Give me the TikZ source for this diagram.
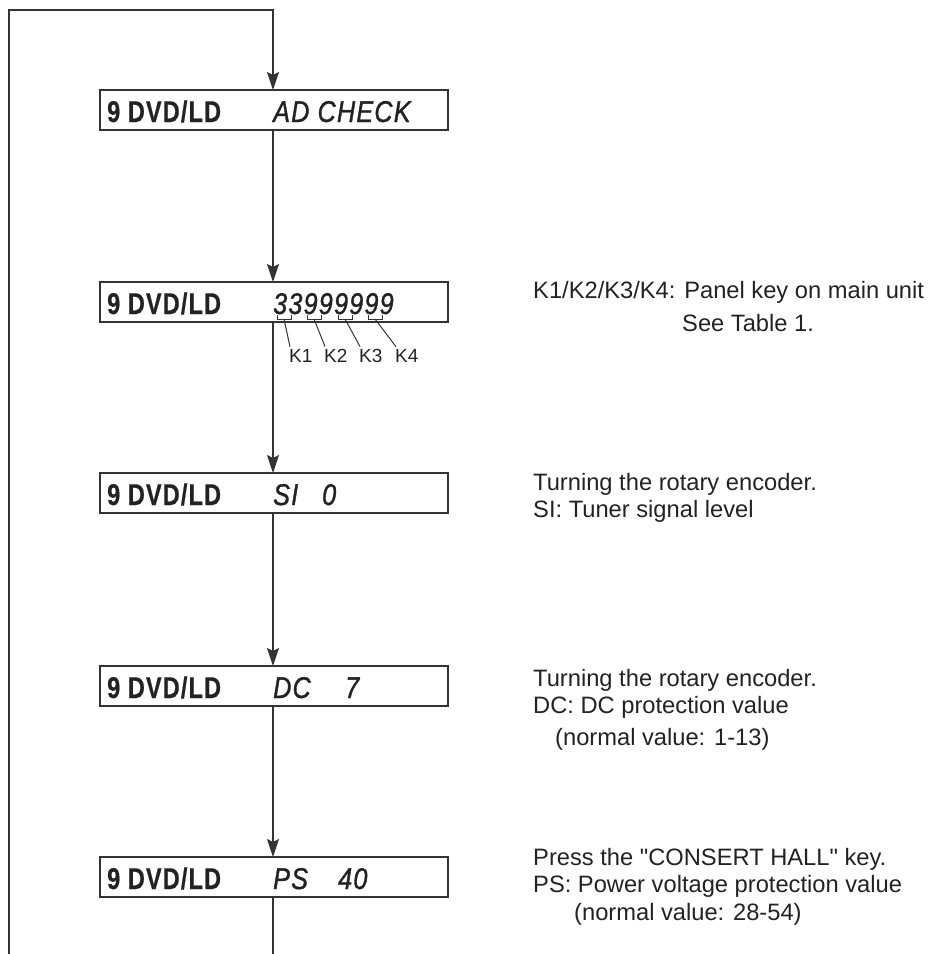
\documentclass[tikz,border=0pt]{standalone}
\usepackage{fontspec}
\setmainfont{Liberation Sans}
\newfontfamily\lcdfont[FakeStretch=0.78,LetterSpace=4,FakeBold=0.6]{Liberation Sans}
\newfontfamily\lcditfont[FakeStretch=0.84,LetterSpace=4,FakeBold=1.2]{Liberation Sans}
\usetikzlibrary{arrows.meta}
\definecolor{inkcol}{HTML}{222222}
\definecolor{linecol}{HTML}{333333}
\begin{document}
\begin{tikzpicture}[x=1pt,y=-1pt,
  lcdbox/.style={draw=linecol, line width=1.3pt, minimum width=348pt, minimum height=40pt,
    inner sep=0pt, outer sep=0pt, anchor=north west},
  lcdtxt/.style={anchor=base west, inner sep=0pt, text=inkcol,
    font=\lcdfont\bfseries\fontsize{30}{30}\selectfont},
  lcdit/.style={anchor=base west, inner sep=0pt, text=inkcol,
    font=\lcditfont\itshape\fontsize{30}{30}\selectfont},
  note/.style={anchor=base west, inner sep=0pt, text=inkcol,
    font=\fontsize{23.7}{28}\selectfont},
  klab/.style={anchor=base west, inner sep=0pt, text=inkcol,
    font=\fontsize{19}{19}\selectfont},
  conn/.style={draw=linecol, line width=1.3pt},
  arr/.style={conn, -{Stealth[length=18pt,width=12pt,inset=3pt]}},
  thin/.style={draw=linecol, line width=1pt}]
\useasboundingbox (0,0) rectangle (929,954);

% boxes
\node[lcdbox] (box1) at (100,90) {};
\node[lcdbox] (box2) at (100,282) {};
\node[lcdbox] (box3) at (100,473) {};
\node[lcdbox] (box4) at (100,666) {};
\node[lcdbox] (box5) at (100,857) {};

% box texts
\node[lcdtxt] (t1a) at (107,122) {9 DVD/LD};
\node[lcdit]  (t1b) at (273,122) {AD CHECK};
\node[lcdtxt] (t2a) at (107,314) {9 DVD/LD};
\node[lcdit]  (t2b) at (273,314) {33999999};
\node[lcdtxt] (t3a) at (107,505) {9 DVD/LD};
\node[lcdit]  (t3b) at (273,505) {SI};
\node[lcdit]  (t3c) at (322,505) {0};
\node[lcdtxt] (t4a) at (107,698) {9 DVD/LD};
\node[lcdit]  (t4b) at (273,698) {DC};
\node[lcdit]  (t4c) at (345,698) {7};
\node[lcdtxt] (t5a) at (107,889) {9 DVD/LD};
\node[lcdit]  (t5b) at (273,889) {PS};
\node[lcdit]  (t5c) at (338,889) {40};

% key brackets and labels
\foreach \i/\bx/\lx in {1/284/289, 2/314/324, 3/345/359, 4/375/395}{
  \draw[thin] (\bx-7,315) -- (\bx-7,319) -- (\bx+7,319) -- (\bx+7,315);
  \coordinate (b\i) at (\bx,319);
  \node[klab] (k\i) at (\lx,362) {K\i};
  \draw[thin] (b\i) -- ([xshift=1pt,yshift=2pt]k\i.north west);
}

% vertical flow
\coordinate (vx) at (273,0);
\coordinate (ltop) at (9,10);
\coordinate (lbot) at (9,954);
\coordinate (rbot) at (273,954);
\draw[arr] (lbot) -- (ltop) -| (box1.north -| vx);
\draw[arr] (box1.south -| vx) -- (box2.north -| vx);
\draw[arr] (box2.south -| vx) -- (box3.north -| vx);
\draw[arr] (box3.south -| vx) -- (box4.north -| vx);
\draw[arr] (box4.south -| vx) -- (box5.north -| vx);
\draw[conn] (box5.south -| vx) -- (rbot);

% notes
\node[note] (n2a) at (533,298) {K1/K2/K3/K4: Panel key on main unit};
\node[note] (n2b) at (682,331) {See Table 1.};
\node[note] (n3a) at (533,490) {Turning the rotary encoder.};
\node[note] (n3b) at (533,517) {SI: Tuner signal level};
\node[note] (n4a) at (533,686) {Turning the rotary encoder.};
\node[note] (n4b) at (533,713) {DC: DC protection value};
\node[note] (n4c) at (555,745) {(normal value: 1-13)};
\node[note] (n5a) at (533,865) {Press the \textquotedbl CONSERT HALL\textquotedbl\ key.};
\node[note] (n5b) at (533,892) {PS: Power voltage protection value};
\node[note] (n5c) at (574,920) {(normal value: 28-54)};
\end{tikzpicture}
\end{document}
